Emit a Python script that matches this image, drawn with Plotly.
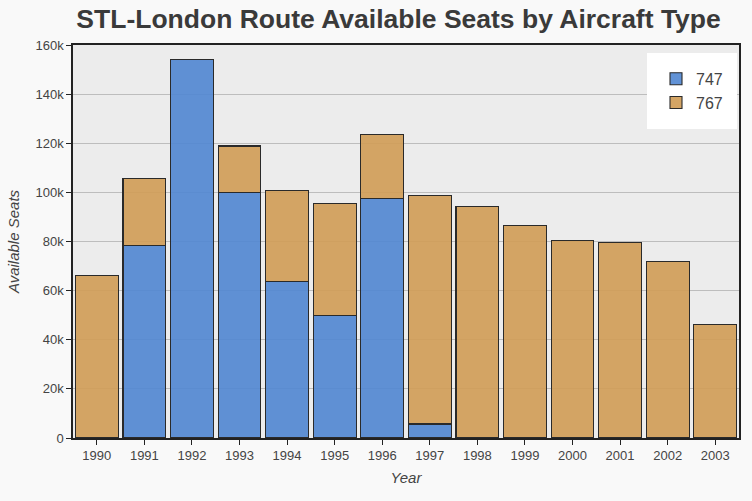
import plotly.graph_objects as go

years = ["1990", "1991", "1992", "1993", "1994", "1995", "1996", "1997",
         "1998", "1999", "2000", "2001", "2002", "2003"]
seats_747 = [None, 78200, 154200, 99800, 63800, 49700, 97500, 5700,
             None, None, None, None, None, None]
seats_767 = [66200, 27500, None, 19100, 36800, 45900, 25900, 93000,
             94200, 86600, 80300, 79700, 71900, 46100]

fig = go.Figure()
fig.add_trace(go.Bar(
    x=years, y=seats_747, name="747",
    marker=dict(color="rgba(80,134,210,0.9)", line=dict(color="#2a2a2a", width=1.1)),
))
fig.add_trace(go.Bar(
    x=years, y=seats_767, name="767",
    marker=dict(color="rgba(208,157,88,0.92)", line=dict(color="#2a2a2a", width=1.1)),
))

fig.update_layout(
    barmode="stack",
    bargap=0.1,
    width=752, height=501,
    margin=dict(l=73, r=13, t=45, b=63),
    paper_bgcolor="#f9f9f9",
    plot_bgcolor="#ececec",
    font=dict(family="Liberation Sans, Arial, sans-serif", color="#444", size=13),
    title=dict(text="<b>STL-London Route Available Seats by Aircraft Type</b>",
               x=0.53, xanchor="center", y=0.962, yanchor="middle",
               font=dict(size=26.5, color="#3a3a3a")),
    legend=dict(x=0.997, y=0.98, xanchor="right", yanchor="top",
                traceorder="normal",
                bgcolor="white", bordercolor="white", borderwidth=9,
                font=dict(size=16, color="#444"),
                itemwidth=30, tracegroupgap=6),
    xaxis=dict(
        title=dict(text="<i>Year</i>", font=dict(size=15, color="#444"), standoff=10),
        showline=True, linecolor="#222", linewidth=1.5, mirror=True,
        ticks="outside", ticklen=5, tickcolor="#222",
        tickfont=dict(size=13, color="#444"),
    ),
    yaxis=dict(
        title=dict(text="<i>Available Seats</i>", font=dict(size=15, color="#444"), standoff=12),
        range=[0, 160000], tickvals=[0, 20000, 40000, 60000, 80000, 100000, 120000, 140000, 160000],
        ticktext=["0", "20k", "40k", "60k", "80k", "100k", "120k", "140k", "160k"],
        showline=True, linecolor="#222", linewidth=1.5, mirror=True,
        ticks="outside", ticklen=5, tickcolor="#222",
        gridcolor="#bdbdbd", gridwidth=1, zeroline=False,
        tickfont=dict(size=13, color="#444"),
    ),
)

fig.write_html("out.html")
